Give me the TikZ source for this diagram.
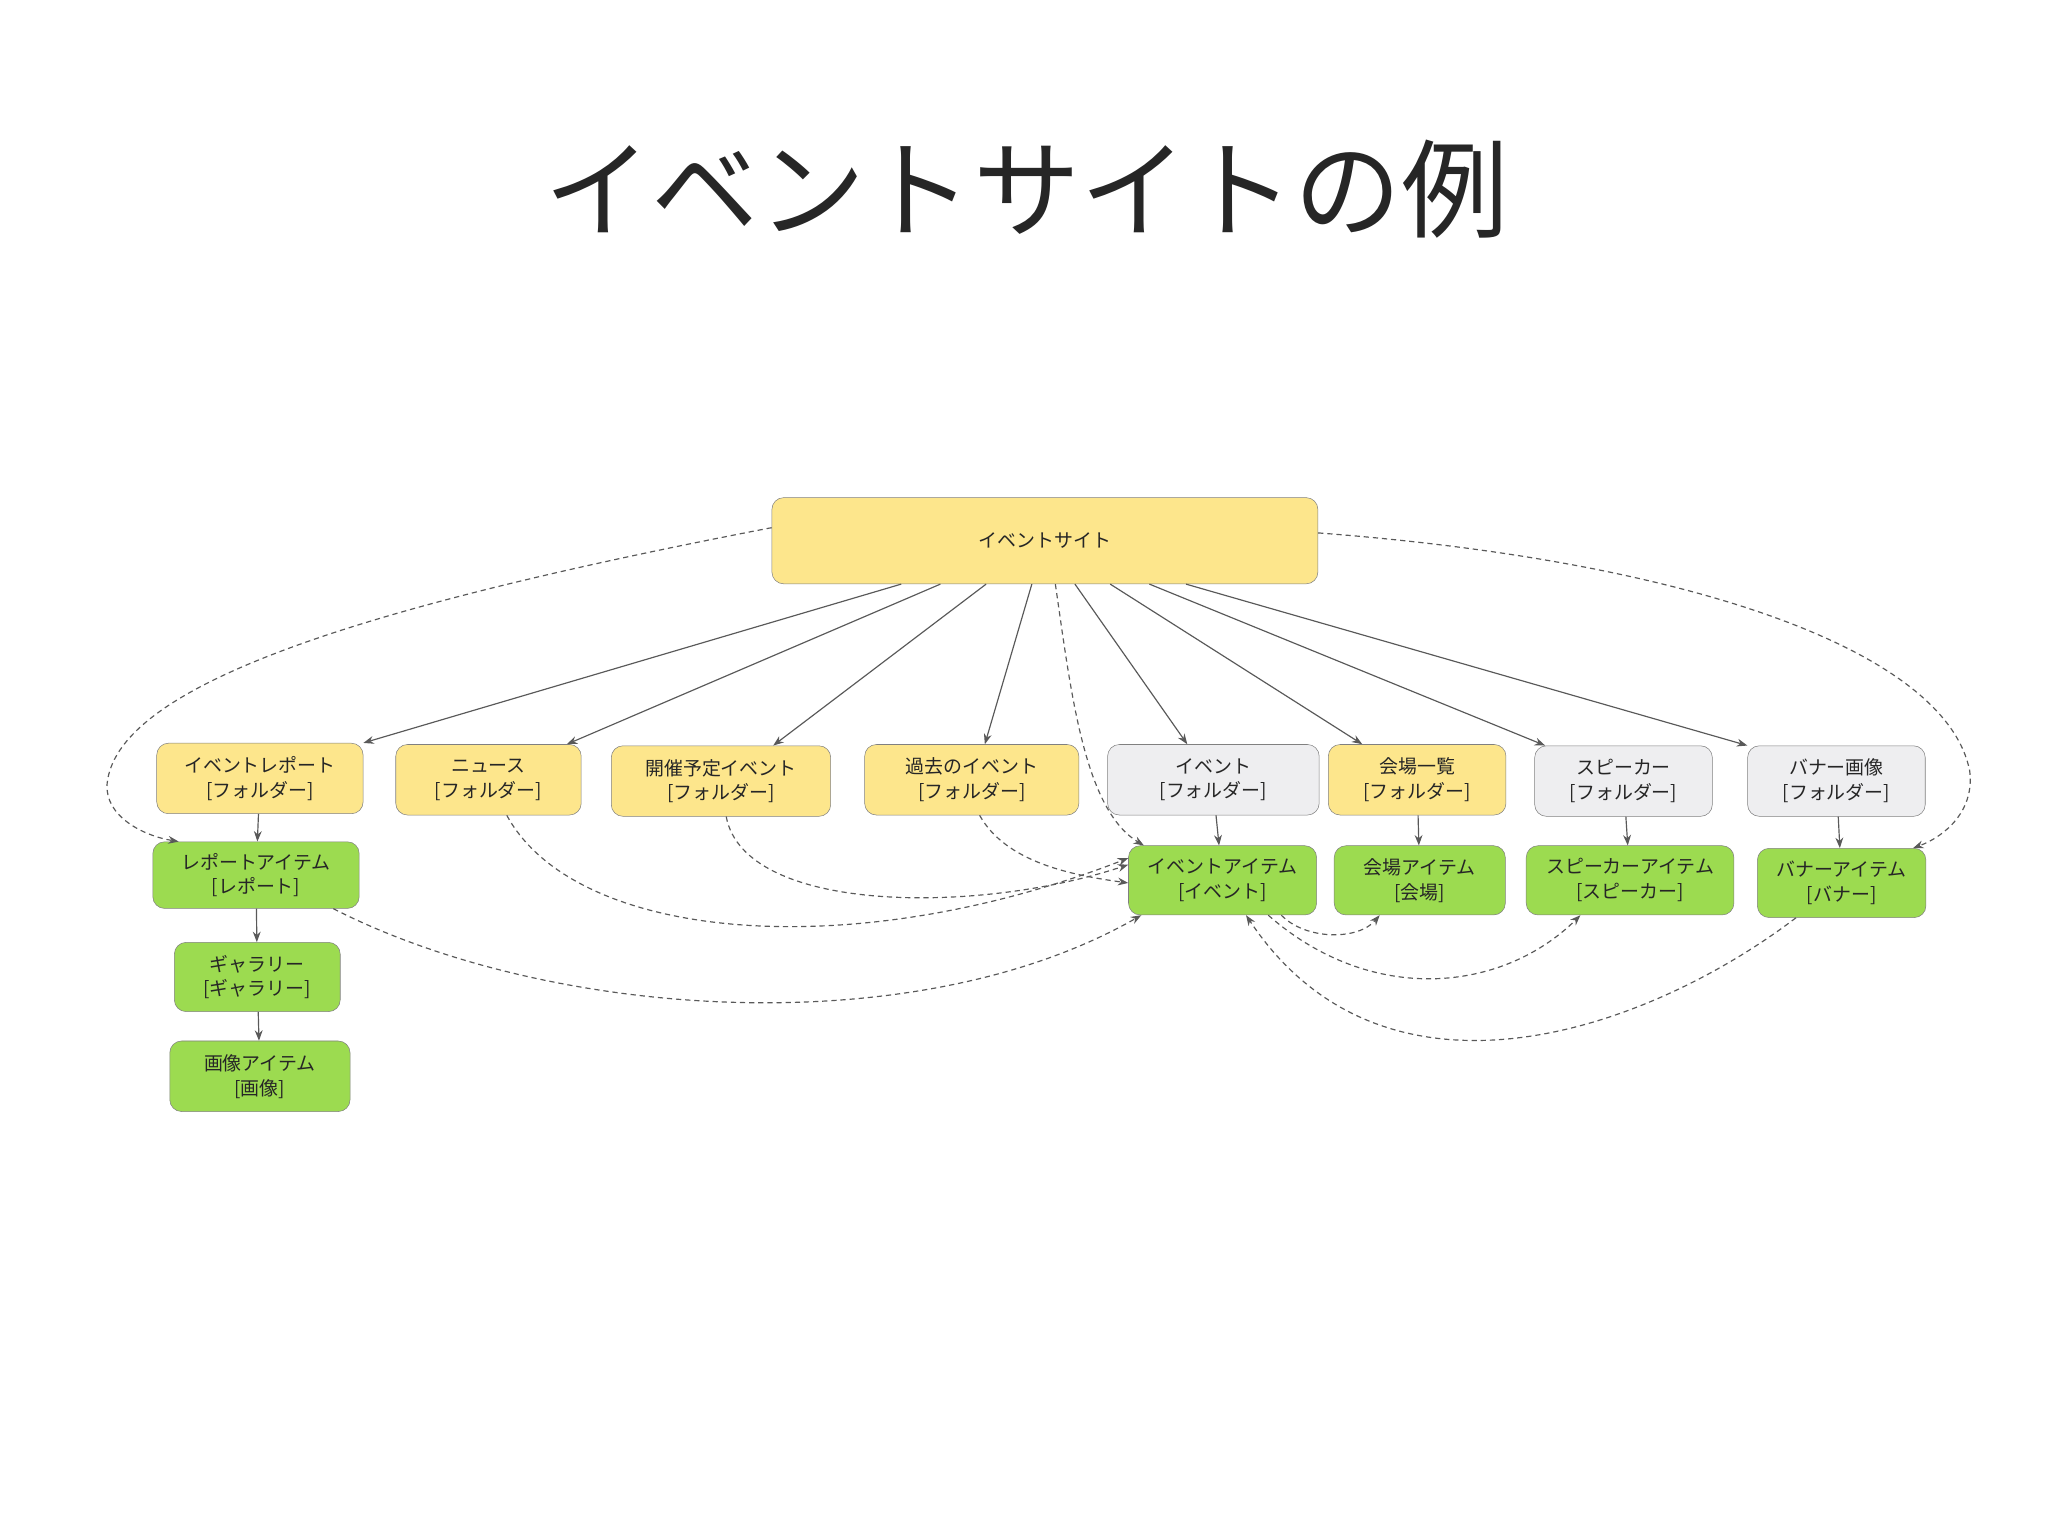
\documentclass[tikz,border=0pt]{standalone}
\usepackage{fontspec}
\setmainfont{Noto Sans CJK JP}
\usetikzlibrary{arrows.meta}
\definecolor{ylw}{HTML}{FDE68C}
\definecolor{grn}{HTML}{9CDB50}
\definecolor{gry}{HTML}{EEEEF0}
\definecolor{bd}{HTML}{808080}
\begin{document}
\begin{tikzpicture}[x=1pt,y=-1pt,
 box/.style={draw=bd,rounded corners=9pt,align=center,font=\fontsize{14.5}{19}\selectfont,inner sep=0pt,text=black!85},
 Y/.style={box,fill=ylw},G/.style={box,fill=grn},W/.style={box,fill=gry},
 e/.style={draw=black!65,line width=0.9pt,-{Stealth[length=8pt,width=6pt]}},
 d/.style={e,dashed,dash pattern=on 4pt off 3pt}]
\useasboundingbox (0,0) rectangle (1568,1175);
\node[font=\fontsize{82}{90}\selectfont,text=black!85] (title) at (786,145) {イベントサイトの例};
\node[Y,minimum width=418pt,minimum height=66pt] (top) at (800,414) {イベントサイト};
\node[Y,minimum width=158pt,minimum height=54pt] (A) at (199,596) {イベントレポート\\{}[フォルダー]};
\node[Y,minimum width=142pt,minimum height=54pt] (B) at (374,597) {ニュース\\{}[フォルダー]};
\node[Y,minimum width=168pt,minimum height=54pt] (C) at (552,598) {開催予定イベント\\{}[フォルダー]};
\node[Y,minimum width=164pt,minimum height=54pt] (D) at (744,597) {過去のイベント\\{}[フォルダー]};
\node[W,minimum width=162pt,minimum height=54pt] (E) at (929,597) {イベント\\{}[フォルダー]};
\node[Y,minimum width=136pt,minimum height=54pt] (F) at (1085,597) {会場一覧\\{}[フォルダー]};
\node[W,minimum width=136pt,minimum height=54pt] (Gf) at (1243,598) {スピーカー\\{}[フォルダー]};
\node[W,minimum width=136pt,minimum height=54pt] (H) at (1406,598) {バナー画像\\{}[フォルダー]};
\node[G,minimum width=158pt,minimum height=51pt] (RA) at (196,670) {レポートアイテム\\{}[レポート]};
\node[G,minimum width=144pt,minimum height=53pt] (EI) at (936,674) {イベントアイテム\\{}[イベント]};
\node[G,minimum width=131pt,minimum height=53pt] (VI) at (1087,674) {会場アイテム\\{}[会場]};
\node[G,minimum width=159pt,minimum height=53pt] (SI) at (1248,674) {スピーカーアイテム\\{}[スピーカー]};
\node[G,minimum width=129pt,minimum height=53pt] (BI) at (1410,676) {バナーアイテム\\{}[バナー]};
\node[G,minimum width=127pt,minimum height=53pt] (GA) at (197,748) {ギャラリー\\{}[ギャラリー]};
\node[G,minimum width=138pt,minimum height=54pt] (IM) at (199,824) {画像アイテム\\{}[画像]};
% solid
\draw[e] ([xshift=-110pt]top.south) -- (A.north east);
\draw[e] ([xshift=-80pt]top.south) -- ([xshift=60pt]B.north);
\draw[e] ([xshift=-45pt]top.south) -- ([xshift=40pt]C.north);
\draw[e] ([xshift=-10pt]top.south) -- ([xshift=10pt]D.north);
\draw[e] ([xshift=23pt]top.south) -- ([xshift=-20pt]E.north);
\draw[e] ([xshift=50pt]top.south) -- ([xshift=-42pt]F.north);
\draw[e] ([xshift=80pt]top.south) -- ([xshift=-60pt]Gf.north);
\draw[e] ([xshift=108pt]top.south) -- (H.north west);
\draw[e] (A) -- (RA);
\draw[e] ([xshift=2pt]E.south) -- (EI);
\draw[e] (F) -- (VI);
\draw[e] (Gf) -- (SI);
\draw[e] (H) -- (BI);
\draw[e] (RA) -- (GA);
\draw[e] (GA) -- (IM);
% dashed
\draw[d] ([yshift=10pt]top.west) .. controls (300,460) and (90,520) .. (82,600) .. controls (80,625) and (110,640) .. ([xshift=20pt]RA.north west);
\draw[d] ([yshift=6pt]top.east) .. controls (1300,430) and (1490,500) .. (1508,590) .. controls (1512,620) and (1490,640) .. ([xshift=-10pt]BI.north east);
\draw[d] ([xshift=8pt]top.south) .. controls (820,530) and (830,620) .. ([xshift=12pt]EI.north west);
\draw[d] ([xshift=14pt]B.south) .. controls (440,720) and (650,740) .. ([yshift=17pt]EI.west);
\draw[d] ([xshift=4pt]C.south) .. controls (570,700) and (750,700) .. ([yshift=12pt]EI.west);
\draw[d] ([xshift=6pt]D.south) .. controls (770,660) and (820,670) .. ([yshift=-2pt]EI.west);
\draw[d] ([xshift=-20pt]RA.south east) .. controls (420,780) and (700,800) .. ([xshift=10pt]EI.south west);
\draw[d] ([xshift=45pt]EI.south) .. controls (1000,720) and (1040,720) .. ([xshift=35pt]VI.south west);
\draw[d] ([xshift=35pt]EI.south) .. controls (1050,770) and (1150,760) .. ([xshift=-38pt]SI.south);
\draw[d] ([xshift=-35pt]BI.south) .. controls (1260,790) and (1060,860) .. ([xshift=18pt]EI.south);
\end{tikzpicture}
\end{document}
